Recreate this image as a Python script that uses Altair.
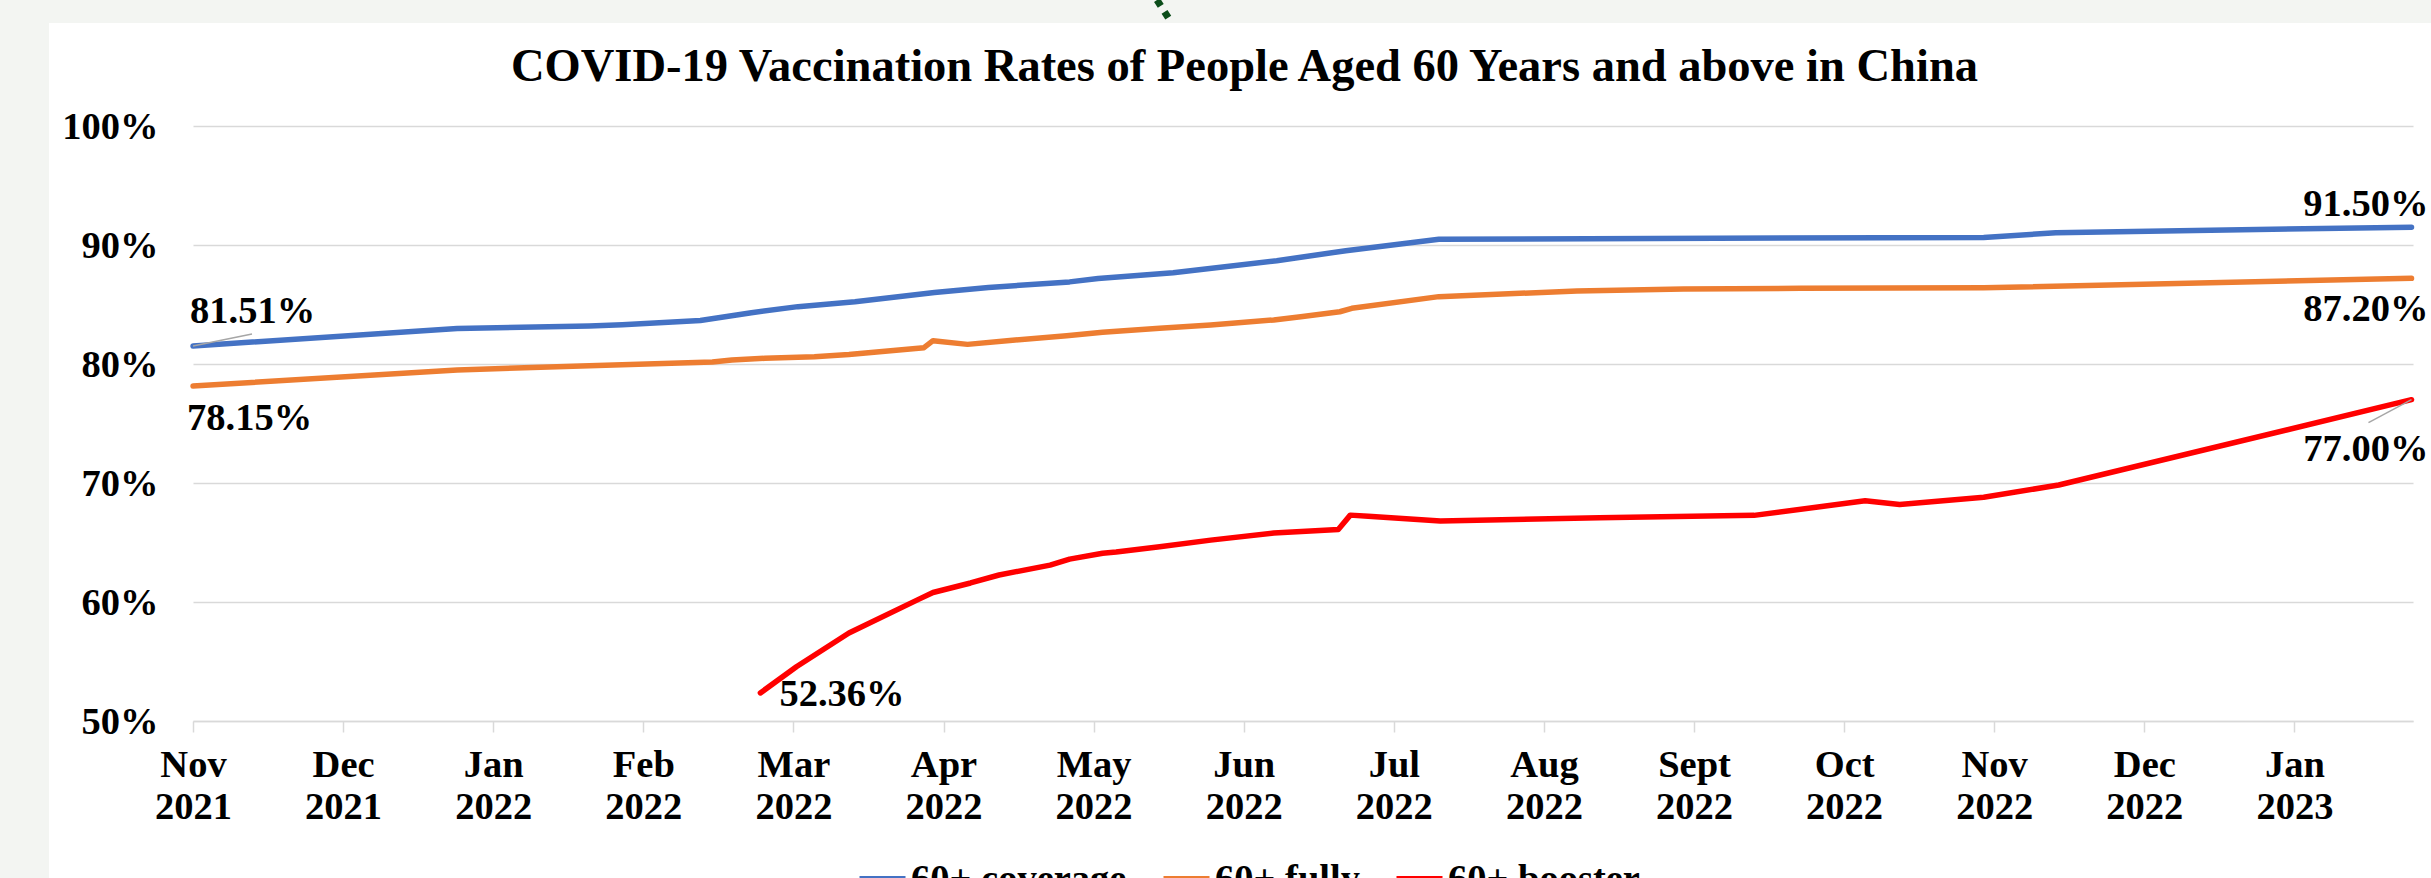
import json
import altair as alt
import pandas as pd

# ---------------- data ----------------
MONTHS = ["Nov", "Dec", "Jan", "Feb", "Mar", "Apr", "May", "Jun", "Jul",
          "Aug", "Sept", "Oct", "Nov", "Dec", "Jan"]
YEARS = ["2021", "2021", "2022", "2022", "2022", "2022", "2022", "2022",
         "2022", "2022", "2022", "2022", "2022", "2022", "2023"]

# x = months after the start of Nov 2021 (category spacing on the axis)
cov_x = [0, 1.76, 2.64, 2.86, 3.38, 3.72, 4.03, 4.41, 4.94, 5.30, 5.84, 6.03,
         6.53, 7.22, 7.68, 8.30, 11.93, 12.41, 14.78]
cov_y = [81.51, 82.98, 83.19, 83.30, 83.65, 84.31, 84.82, 85.24, 86.00, 86.43,
         86.90, 87.19, 87.67, 88.68, 89.52, 90.48, 90.64, 91.03, 91.50]

full_x = [0, 1.76, 2.64, 3.46, 3.59, 3.81, 4.14, 4.37, 4.87, 4.93, 5.16, 5.46,
          5.82, 6.06, 6.44, 6.78, 7.20, 7.38, 7.64, 7.72, 8.30, 9.22, 9.93,
          10.71, 11.93, 14.78]
full_y = [78.15, 79.50, 79.85, 80.17, 80.34, 80.48, 80.61, 80.80, 81.37, 81.96,
          81.65, 82.00, 82.38, 82.66, 83.00, 83.28, 83.70, 83.97, 84.39, 84.68,
          85.66, 86.13, 86.30, 86.36, 86.40, 87.20]

boost_x = [3.78, 4.02, 4.37, 4.83, 4.93, 5.18, 5.37, 5.71, 5.84, 6.06, 6.15,
           6.44, 6.78, 7.20, 7.63, 7.71, 7.83, 8.31, 9.37, 10.40, 11.14, 11.37,
           11.93, 12.43, 14.78]
boost_y = [52.36, 54.56, 57.40, 60.20, 60.80, 61.60, 62.27, 63.10, 63.60, 64.10,
           64.20, 64.65, 65.20, 65.80, 66.10, 67.30, 67.20, 66.80, 67.08, 67.28,
           68.50, 68.20, 68.80, 69.83, 77.00]

SERIES = ["60+ coverage", "60+ fully", "60+ booster"]
COLORS = ["#4472C4", "#ED7D31", "#FF0000"]
Y_TICKS = [50, 60, 70, 80, 90, 100]
TITLE = "COVID-19 Vaccination Rates of People Aged 60 Years and above in China"

series_data = {
    "60+ coverage": (cov_x, cov_y),
    "60+ fully": (full_x, full_y),
    "60+ booster": (boost_x, boost_y),
}

rows = []
for name, (xs, ys) in series_data.items():
    for xv, yv in zip(xs, ys):
        rows.append({"series": name, "m": xv, "v": yv})
df = pd.DataFrame(rows)


def point_df(name, idx):
    xs, ys = series_data[name]
    return pd.DataFrame({"series": [name], "m": [xs[idx]], "v": [ys[idx]],
                         "label": [f"{ys[idx]:.2f}%"]})


FONT = "Liberation Serif"
FS = 38.5
GRID = "#d9d9d9"

x_scale = alt.Scale(domain=[0, 14.79], nice=False, zero=False)
y_scale = alt.Scale(domain=[50, 100], nice=False, zero=False)

label_expr_x = f"[{json.dumps(MONTHS)}[datum.value], {json.dumps(YEARS)}[datum.value]]"

x_axis = alt.Axis(values=list(range(len(MONTHS))), labelExpr=label_expr_x,
                  grid=False, domainColor=GRID, domainWidth=1.5,
                  tickColor=GRID, tickWidth=1.5, tickSize=11,
                  labelFont=FONT, labelFontSize=FS, labelFontWeight="bold",
                  labelColor="black", labelPadding=14, labelLineHeight=42,
                  labelAngle=0, labelAlign="center", labelBaseline="top",
                  labelOverlap=False, labelFlush=False, title=None)
y_axis = alt.Axis(values=Y_TICKS, labelExpr="datum.value + '%'",
                  domain=False, ticks=False, gridColor=GRID, gridWidth=1.5,
                  labelFont=FONT, labelFontSize=FS, labelFontWeight="bold",
                  labelColor="black", labelPadding=35, title=None)

base = alt.Chart(df)

lines = base.mark_line(strokeWidth=5.5, strokeCap="round", strokeJoin="round").encode(
    x=alt.X("m:Q", scale=x_scale, axis=x_axis),
    y=alt.Y("v:Q", scale=y_scale, axis=y_axis),
    color=alt.Color("series:N", scale=alt.Scale(domain=SERIES, range=COLORS),
                    legend=alt.Legend(orient="none", legendX=664, legendY=727,
                                      direction="horizontal", title=None,
                                      symbolType="stroke", symbolSize=2116,
                                      symbolStrokeWidth=5, labelFont=FONT,
                                      labelFontSize=FS, labelFontWeight="bold",
                                      labelColor="black", labelOffset=3,
                                      labelLimit=500,
                                      columnPadding=26, padding=0)),
)

# decoration: grey frame around the white chart panel and a dotted green stroke
one = pd.DataFrame({"k": [0]})
frame_left = alt.Chart(one).mark_rect(color="#f3f5f2").encode(
    x=alt.value(-193), x2=alt.value(-144), y=alt.value(-126), y2=alt.value(760))
frame_top = alt.Chart(one).mark_rect(color="#f3f5f2").encode(
    x=alt.value(-193), x2=alt.value(2240), y=alt.value(-126), y2=alt.value(-103))
green = alt.Chart(one).mark_rule(color="#0b4d1a", strokeWidth=7, strokeDash=[7, 7]).encode(
    x=alt.value(964), x2=alt.value(978), y=alt.value(-126), y2=alt.value(-104))

# data labels
label_specs = [
    ("60+ coverage", 0, "left", -3, -23),
    ("60+ fully", 0, "left", -6, 44),
    ("60+ booster", 0, "left", 19, 13),
    ("60+ coverage", -1, "right", 17, -11),
    ("60+ fully", -1, "right", 17, 43),
    ("60+ booster", -1, "right", 17, 61),
]
texts = []
for name, idx, align, dx, dy in label_specs:
    texts.append(
        alt.Chart(point_df(name, idx)).mark_text(
            align=align, baseline="alphabetic", dx=dx, dy=dy, font=FONT,
            fontSize=FS, fontWeight="bold", color="black").encode(
            x=alt.X("m:Q", scale=x_scale), y=alt.Y("v:Q", scale=y_scale),
            text="label:N")
    )

leader1 = alt.Chart(point_df("60+ coverage", 0)).mark_rule(
    color="#a6a6a6", strokeWidth=1.5, x2Offset=59, y2Offset=-12).encode(
    x=alt.X("m:Q", scale=x_scale), x2="m", y=alt.Y("v:Q", scale=y_scale), y2="v")
leader2 = alt.Chart(point_df("60+ booster", -1)).mark_rule(
    color="#a6a6a6", strokeWidth=1.5, x2Offset=-43, y2Offset=23).encode(
    x=alt.X("m:Q", scale=x_scale), x2="m", y=alt.Y("v:Q", scale=y_scale), y2="v")

chart = alt.layer(frame_left, frame_top, green, lines, leader1, leader2, *texts).properties(
    width=2220, height=595,
    autosize=alt.AutoSizeParams(type="none"),
    padding={"left": 193, "top": 126, "right": 18, "bottom": 157},
    background="white",
    title=alt.Title(text=TITLE, font=FONT, fontSize=46.5, fontWeight="bold",
                    color="black", anchor="middle", frame="group", dx=-58.5,
                    baseline="alphabetic", offset=-131),
).configure_view(strokeOpacity=0)

chart.save("out.html", embed_options={"renderer": "svg", "actions": False})
